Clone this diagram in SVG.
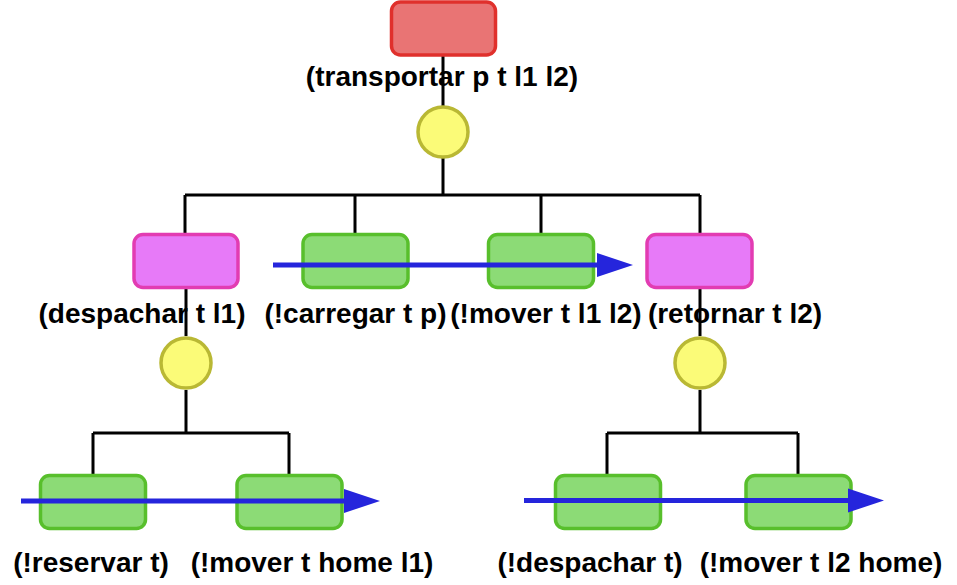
<svg xmlns="http://www.w3.org/2000/svg" width="957" height="585" viewBox="0 0 957 585">
<defs>
<style>
.lbl{font-family:"Liberation Sans",Arial,Helvetica,sans-serif;font-weight:bold;font-size:28px;fill:#000;text-anchor:middle}
.tree{fill:none;stroke:#000;stroke-width:3}
.red{fill:#e97474;stroke:#e0302c;stroke-width:3.5}
.mag{fill:#e77af8;stroke:#e23cb2;stroke-width:3.5}
.grn{fill:#8cdb76;stroke:#58bf2c;stroke-width:3.5}
.yel{fill:#fbfb78;stroke:#b9b834;stroke-width:3.5}
.seq{stroke:#2525dc;stroke-width:5;fill:none}
</style>
<marker id="ah" markerUnits="userSpaceOnUse" markerWidth="36" markerHeight="26" refX="0" refY="12" orient="auto" overflow="visible">
<path d="M0,0 L36,12 L0,24 Z" fill="#2525dc"/>
</marker>
</defs>
<rect width="957" height="585" fill="#fff"/>
<g id="connectors">
<path class="tree" d="M443,56 V106 M443,158 V195 M185,195 H700 M185,195 V233 M355,195 V233 M541,195 V233 M700,195 V233"/>
<path class="tree" d="M186,288 V336 M186,390 V433 M93,433 H289 M93,433 V474 M289,433 V474"/>
<path class="tree" d="M700,288 V336 M700,390 V433 M607,433 H798 M607,433 V474 M798,433 V474"/>
</g>
<g id="n-transportar">
<rect class="red" x="391.5" y="2" width="104" height="53" rx="9"/>
<text class="lbl" x="442" y="86">(transportar p t l1 l2)</text>
</g>
<g id="m-transportar">
<circle class="yel" cx="443" cy="132" r="25"/>
</g>
<g id="n-despachar">
<rect class="mag" x="134" y="234.5" width="104" height="53" rx="9"/>
<text class="lbl" x="142" y="323">(despachar t l1)</text>
</g>
<g id="n-carregar">
<rect class="grn" x="303" y="234.5" width="105" height="53" rx="9"/>
<text class="lbl" x="355.5" y="323">(!carregar t p)</text>
</g>
<g id="n-mover-l1-l2">
<rect class="grn" x="488.5" y="234.5" width="105" height="53" rx="9"/>
<text class="lbl" x="546" y="323">(!mover t l1 l2)</text>
</g>
<g id="n-retornar">
<rect class="mag" x="647" y="234.5" width="105" height="53" rx="9"/>
<text class="lbl" x="735" y="323">(retornar t l2)</text>
</g>
<g id="m-despachar">
<circle class="yel" cx="186" cy="363" r="25"/>
</g>
<g id="m-retornar">
<circle class="yel" cx="700" cy="363" r="25"/>
</g>
<g id="n-reservar">
<rect class="grn" x="40.5" y="475.5" width="105" height="53" rx="9"/>
<text class="lbl" x="91" y="572">(!reservar t)</text>
</g>
<g id="n-mover-home-l1">
<rect class="grn" x="237" y="475.5" width="105" height="53" rx="9"/>
<text class="lbl" x="312" y="572">(!mover t home l1)</text>
</g>
<g id="n-despachar-t">
<rect class="grn" x="555.5" y="475.5" width="105" height="53" rx="9"/>
<text class="lbl" x="590" y="572">(!despachar t)</text>
</g>
<g id="n-mover-l2-home">
<rect class="grn" x="746" y="475.5" width="105" height="53" rx="9"/>
<text class="lbl" x="821" y="572">(!mover t l2 home)</text>
</g>
<g id="sequence-arrows">
<line class="seq" x1="273" y1="265" x2="597" y2="265" marker-end="url(#ah)"/>
<line class="seq" x1="21" y1="501" x2="344" y2="501" marker-end="url(#ah)"/>
<line class="seq" x1="524" y1="500.5" x2="848" y2="500.5" marker-end="url(#ah)"/>
</g>
</svg>
